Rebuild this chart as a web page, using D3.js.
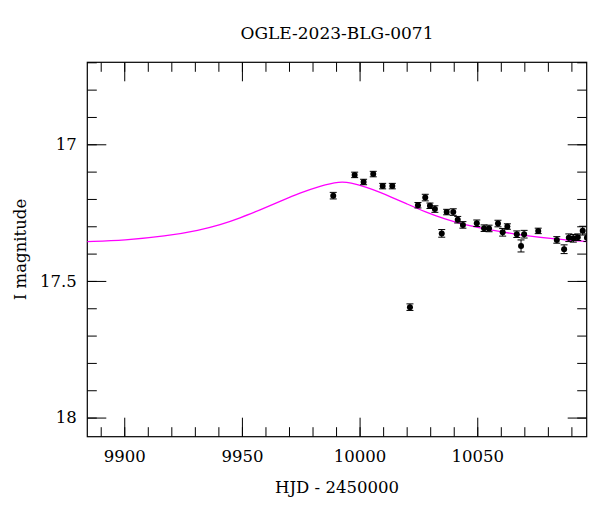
<!DOCTYPE html>
<html lang="en">
<head>
<meta charset="utf-8">
<title>OGLE-2023-BLG-0071</title>
<script src="https://cdn.jsdelivr.net/npm/d3@7"></script>
<style>
  body { margin: 0; background: #fff; }
  svg text { font-family: "DejaVu Serif", serif; fill: #000; }
</style>
</head>
<body>
<script>
// observed photometry (HJD - 2450000, I mag, error)
var hjd = [9988.8, 9997.9, 10001.7, 10005.8, 10009.8, 10013.9, 10021.4, 10024.8, 10027.9, 10029.9,
           10032.0, 10034.9, 10037.0, 10039.8, 10041.7, 10043.9, 10049.8, 10052.9, 10055.0, 10058.8,
           10060.8, 10062.8, 10066.8, 10068.6, 10069.9, 10075.9, 10083.8, 10086.9, 10088.9, 10090.8,
           10092.7, 10094.8, 10096.6];
var mag = [17.188, 17.112, 17.138, 17.109, 17.153, 17.153, 17.596, 17.223, 17.195, 17.225,
           17.237, 17.326, 17.248, 17.248, 17.276, 17.295, 17.289, 17.307, 17.308, 17.290,
           17.322, 17.301, 17.329, 17.372, 17.329, 17.317, 17.350, 17.384, 17.342, 17.344,
           17.340, 17.316, 17.342];
var err = [0.012, 0.010, 0.010, 0.010, 0.010, 0.010, 0.012, 0.010, 0.012, 0.010,
           0.012, 0.014, 0.010, 0.012, 0.012, 0.012, 0.012, 0.012, 0.012, 0.012,
           0.014, 0.010, 0.012, 0.022, 0.014, 0.010, 0.012, 0.016, 0.014, 0.014,
           0.012, 0.016, 0.014];

// model curve
var modelT = [9884.2, 9900.3, 9917.3, 9932.2, 9940.7, 9949.2, 9957.7, 9966.2, 9974.7, 9983.2,
              9991.7, 9995.9, 10003.2, 10008.7, 10014.2, 10019.3, 10027.8, 10036.3, 10044.8,
              10054.2, 10068.2, 10083.5, 10096.6];
var modelM = [17.356, 17.351, 17.337, 17.314, 17.295, 17.270, 17.240, 17.209, 17.178, 17.152,
              17.136, 17.140, 17.158, 17.176, 17.196, 17.215, 17.247, 17.274, 17.295,
              17.312, 17.332, 17.347, 17.356];

var xMajor = [9900, 9950, 10000, 10050];
var xMinor = d3.range(9890, 10100, 10);
var yMajor = [17, 17.5, 18];
var yMinor = d3.range(16.7, 18.05, 0.1).map(function(v){ return +v.toFixed(1); });

var w = 600, h = 512;
var pL = 87.3, pR = 586.7, pT = 62.3, pB = 436.7;

var x = d3.scaleLinear().domain([9884.3, 10096.5]).range([pL, pR]);
var y = d3.scaleLinear().domain([16.70, 18.07]).range([pT, pB]);

var svg = d3.select("body").append("svg")
    .attr("width", w).attr("height", h);

svg.append("defs").append("clipPath").attr("id", "clip")
  .append("rect")
    .attr("x", pL).attr("y", pT)
    .attr("width", pR - pL).attr("height", pB - pT);

function ticks(g) {
  g.attr("font-family", "DejaVu Serif").attr("font-size", 16.5);
  g.select(".domain").remove();
  g.selectAll(".tick line").attr("stroke", "#000").attr("stroke-width", 1);
}

// bottom
svg.append("g").attr("transform", "translate(0," + pB + ")")
  .call(d3.axisBottom(x).tickValues(xMinor).tickSize(-9.5).tickFormat(""))
  .call(ticks);
svg.append("g").attr("transform", "translate(0," + pB + ")")
  .call(d3.axisBottom(x).tickValues(xMajor).tickSize(-19).tickPadding(14).tickFormat(d3.format("d")))
  .call(ticks);
// top
svg.append("g").attr("transform", "translate(0," + pT + ")")
  .call(d3.axisTop(x).tickValues(xMinor).tickSize(-9.5).tickFormat(""))
  .call(ticks);
svg.append("g").attr("transform", "translate(0," + pT + ")")
  .call(d3.axisTop(x).tickValues(xMajor).tickSize(-19).tickFormat(""))
  .call(ticks);
// left
svg.append("g").attr("transform", "translate(" + pL + ",0)")
  .call(d3.axisLeft(y).tickValues(yMinor).tickSize(-9.5).tickFormat(""))
  .call(ticks);
svg.append("g").attr("transform", "translate(" + pL + ",0)")
  .call(d3.axisLeft(y).tickValues(yMajor).tickSize(-19).tickPadding(10.6).tickFormat(function(d){ return String(d); }))
  .call(ticks);
// right
svg.append("g").attr("transform", "translate(" + pR + ",0)")
  .call(d3.axisRight(y).tickValues(yMinor).tickSize(-9.5).tickFormat(""))
  .call(ticks);
svg.append("g").attr("transform", "translate(" + pR + ",0)")
  .call(d3.axisRight(y).tickValues(yMajor).tickSize(-19).tickFormat(""))
  .call(ticks);

// frame
svg.append("rect")
  .attr("x", pL).attr("y", pT)
  .attr("width", pR - pL).attr("height", pB - pT)
  .attr("fill", "none").attr("stroke", "#000").attr("stroke-width", 1.2);

var plot = svg.append("g").attr("clip-path", "url(#clip)");

// model
var line = d3.line()
  .x(function(d, i){ return x(modelT[i]); })
  .y(function(d, i){ return y(modelM[i]); })
  .curve(d3.curveBasis);
plot.append("path")
  .datum(modelT)
  .attr("d", line)
  .attr("fill", "none").attr("stroke", "#ff00ff").attr("stroke-width", 1.3);

// data with error bars
var pts = plot.selectAll("g.pt").data(hjd).enter().append("g").attr("class", "pt");
pts.append("line")
  .attr("x1", function(d){ return x(d); }).attr("x2", function(d){ return x(d); })
  .attr("y1", function(d, i){ return y(mag[i] - err[i]); })
  .attr("y2", function(d, i){ return y(mag[i] + err[i]); })
  .attr("stroke", "#000").attr("stroke-width", 1);
[-1, 1].forEach(function(s){
  pts.append("line")
    .attr("x1", function(d){ return x(d) - 3.5; }).attr("x2", function(d){ return x(d) + 3.5; })
    .attr("y1", function(d, i){ return y(mag[i] + s * err[i]); })
    .attr("y2", function(d, i){ return y(mag[i] + s * err[i]); })
    .attr("stroke", "#000").attr("stroke-width", 1);
});
pts.append("circle")
  .attr("cx", function(d){ return x(d); })
  .attr("cy", function(d, i){ return y(mag[i]); })
  .attr("r", 3)
  .attr("fill", "#000");

// labels
svg.append("text")
  .attr("x", (pL + pR) / 2).attr("y", 38.5)
  .attr("text-anchor", "middle").attr("font-size", 17)
  .text("OGLE-2023-BLG-0071");
svg.append("text")
  .attr("x", (pL + pR) / 2).attr("y", 493)
  .attr("text-anchor", "middle").attr("font-size", 16.5)
  .text("HJD - 2450000");
svg.append("text")
  .attr("transform", "translate(26," + ((pT + pB) / 2) + ") rotate(-90)")
  .attr("text-anchor", "middle").attr("font-size", 16.5)
  .text("I magnitude");
</script>
</body>
</html>
